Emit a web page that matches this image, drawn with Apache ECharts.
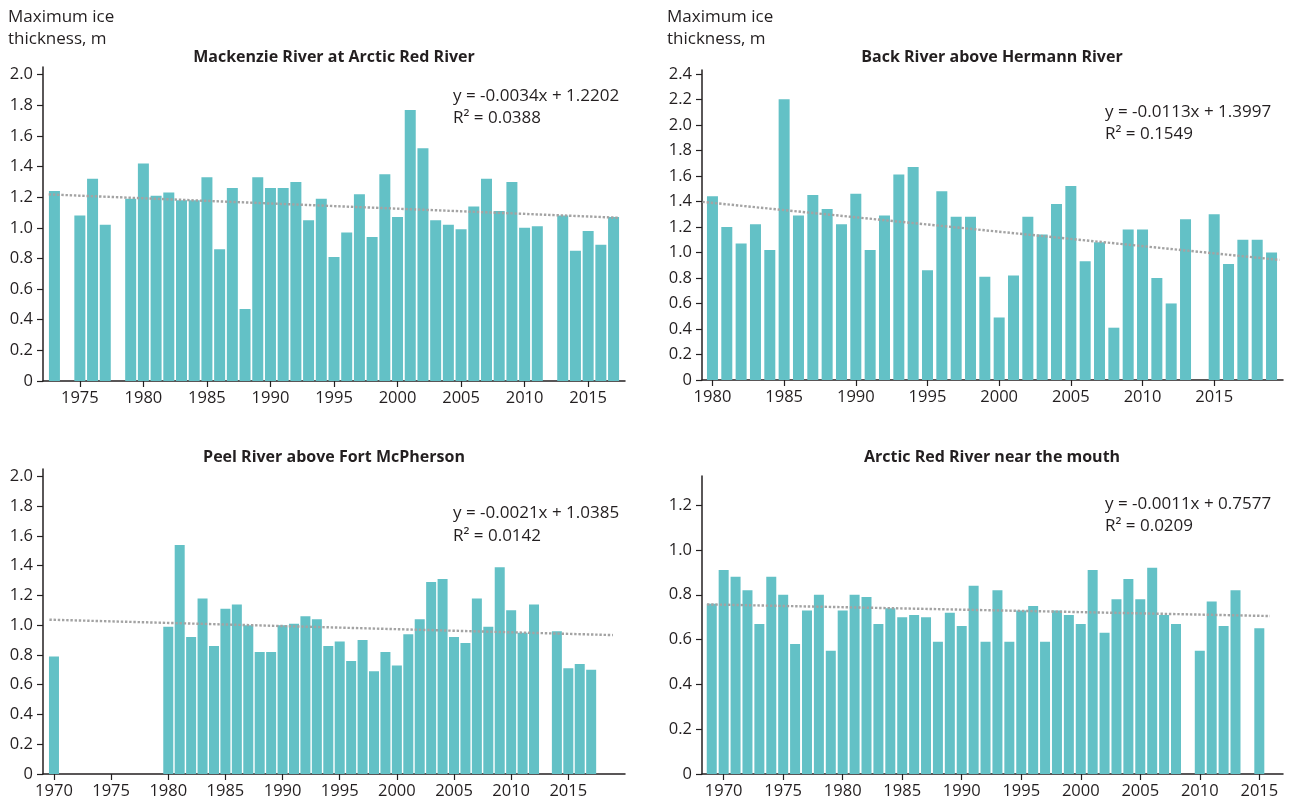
<!DOCTYPE html>
<html>
<head>
<meta charset="utf-8">
<script src="https://cdn.jsdelivr.net/npm/echarts@6/dist/echarts.min.js"></script>
<style>
  html, body { margin: 0; padding: 0; background: #ffffff; }
  #chart { width: 1290px; height: 805px; }
</style>
</head>
<body>
<div id="chart"></div>
<script>
// Maximum ice thickness (m) per year; null = no measurement that year.
const mackenzieStart = 1973;
const mackenzieValues = [
  1.24, null, 1.08, 1.32, 1.02, null, 1.19, 1.42, 1.21, 1.23,
  1.18, 1.18, 1.33, 0.86, 1.26, 0.47, 1.33, 1.26, 1.26, 1.30,
  1.05, 1.19, 0.81, 0.97, 1.22, 0.94, 1.35, 1.07, 1.77, 1.52,
  1.05, 1.02, 0.99, 1.14, 1.32, 1.11, 1.30, 1.00, 1.01, null,
  1.08, 0.85, 0.98, 0.89, 1.07
];

const backStart = 1980;
const backValues = [
  1.44, 1.20, 1.07, 1.22, 1.02, 2.20, 1.29, 1.45, 1.34, 1.22,
  1.46, 1.02, 1.29, 1.61, 1.67, 0.86, 1.48, 1.28, 1.28, 0.81,
  0.49, 0.82, 1.28, 1.14, 1.38, 1.52, 0.93, 1.08, 0.41, 1.18,
  1.18, 0.80, 0.60, 1.26, null, 1.30, 0.91, 1.10, 1.10, 1.00
];

const peelStart = 1970;
const peelValues = [
  0.79, null, null, null, null, null, null, null, null, null,
  0.99, 1.54, 0.92, 1.18, 0.86, 1.11, 1.14, 1.00, 0.82, 0.82,
  1.00, 1.01, 1.06, 1.04, 0.86, 0.89, 0.76, 0.90, 0.69, 0.82,
  0.73, 0.94, 1.04, 1.29, 1.31, 0.92, 0.88, 1.18, 0.99, 1.39,
  1.10, 0.95, 1.14, null, 0.96, 0.71, 0.74, 0.70
];

const arcticStart = 1969;
const arcticValues = [
  0.76, 0.91, 0.88, 0.82, 0.67, 0.88, 0.80, 0.58, 0.73, 0.80,
  0.55, 0.73, 0.80, 0.79, 0.67, 0.74, 0.70, 0.71, 0.70, 0.59,
  0.72, 0.66, 0.84, 0.59, 0.82, 0.59, 0.73, 0.75, 0.59, 0.73,
  0.71, 0.67, 0.91, 0.63, 0.78, 0.87, 0.78, 0.92, 0.71, 0.67,
  null, 0.55, 0.77, 0.66, 0.82, null, 0.65
];

// Linear trend fits (x = 1 at the first year of each record)
const mackenzieTrend = { slope: -0.0034, intercept: 1.2202, r2: '0.0388', span: [1972.55, 2017.45] };
const backTrend      = { slope: -0.0113, intercept: 1.3997, r2: '0.1549', span: [1979.3, 2019.55] };
const peelTrend      = { slope: -0.0021, intercept: 1.0385, r2: '0.0142', span: [1969.6, 2018.9] };
const arcticTrend    = { slope: -0.0011, intercept: 0.7577, r2: '0.0209', span: [1968.6, 2015.9] };

// Tick labels
const yearTicksA = [1975, 1980, 1985, 1990, 1995, 2000, 2005, 2010, 2015];
const yearTicksB = [1980, 1985, 1990, 1995, 2000, 2005, 2010, 2015];
const yearTicksC = [1970, 1975, 1980, 1985, 1990, 1995, 2000, 2005, 2010, 2015];
const thickTicks20 = [0, 0.2, 0.4, 0.6, 0.8, 1.0, 1.2, 1.4, 1.6, 1.8, 2.0];
const thickTicks24 = [0, 0.2, 0.4, 0.6, 0.8, 1.0, 1.2, 1.4, 1.6, 1.8, 2.0, 2.2, 2.4];
const thickTicks12 = [0, 0.2, 0.4, 0.6, 0.8, 1.0, 1.2];

const titles = [
  'Mackenzie River at Arctic Red River',
  'Back River above Hermann River',
  'Peel River above Fort McPherson',
  'Arctic Red River near the mouth'
];
const yName = ['Maximum ice', 'thickness, m'];

const FONT = '"Open Sans", "Noto Sans", sans-serif';
const BAR = '#63c1c6';
const INK = '#231f20';

const panels = [
  { start: mackenzieStart, values: mackenzieValues, trend: mackenzieTrend, xTicks: yearTicksA, yTicks: thickTicks20,
    grid: { left: 43, right: 665, top: 67, bottom: 424 }, xRange: [1972.1, 2017.9], yMax: 2.05, barWidth: 11 },
  { start: backStart, values: backValues, trend: backTrend, xTicks: yearTicksB, yTicks: thickTicks24,
    grid: { left: 702, right: 7, top: 70, bottom: 425 }, xRange: [1979.27, 2019.8], yMax: 2.43, barWidth: 11 },
  { start: peelStart, values: peelValues, trend: peelTrend, xTicks: yearTicksC, yTicks: thickTicks20,
    grid: { left: 43, right: 665, top: 469, bottom: 31 }, xRange: [1969.04, 2019.96], yMax: 2.05, barWidth: 10 },
  { start: arcticStart, values: arcticValues, trend: arcticTrend, xTicks: yearTicksC, yTicks: thickTicks12,
    grid: { left: 702, right: 7, top: 476, bottom: 31 }, xRange: [1968.18, 2016.99], yMax: 1.33, barWidth: 10 }
];

const grid = [], xAxis = [], yAxis = [], series = [];

panels.forEach((p, i) => {
  grid.push(Object.assign({ containLabel: false }, p.grid));

  xAxis.push({
    type: 'value', gridIndex: i, min: p.xRange[0], max: p.xRange[1],
    splitLine: { show: false },
    axisLine: { show: true, onZero: false, lineStyle: { color: INK, width: 1.5 } },
    axisTick: { show: true, length: 6, customValues: p.xTicks, lineStyle: { color: INK, width: 1.2 } },
    axisLabel: { customValues: p.xTicks, margin: 9, color: INK, fontFamily: FONT, fontSize: 16.5,
      formatter: v => String(Math.round(v)) }
  });

  yAxis.push({
    type: 'value', gridIndex: i, min: 0, max: p.yMax,
    splitLine: { show: false },
    axisLine: { show: true, lineStyle: { color: INK, width: 1.5 } },
    axisTick: { show: true, length: 6, customValues: p.yTicks, lineStyle: { color: INK, width: 1.2 } },
    axisLabel: { customValues: p.yTicks, margin: 10, color: INK, fontFamily: FONT, fontSize: 16.5,
      formatter: v => (v === 0 ? '0' : v.toFixed(1)) }
  });

  const barData = [];
  p.values.forEach((v, k) => { if (v !== null) barData.push([p.start + k, v]); });

  series.push({
    type: 'bar', xAxisIndex: i, yAxisIndex: i, data: barData,
    barWidth: p.barWidth, itemStyle: { color: BAR }, silent: true, animation: false
  });

  const t = p.trend;
  const fit = yr => t.intercept + t.slope * (yr - p.start + 1);
  series.push({
    type: 'line', xAxisIndex: i, yAxisIndex: i,
    data: [[t.span[0], fit(t.span[0])], [t.span[1], fit(t.span[1])]],
    symbol: 'none', silent: true, animation: false, z: 5,
    lineStyle: { color: '#a3a3a3', width: 2.4, type: [2.4, 1.8], cap: 'butt' }
  });
});

// Text: panel titles, y-axis captions and trend equations
function txt(x, y, text, font, align) {
  return { type: 'text', x, y, silent: true,
    style: { text, font, fill: INK, align: align || 'left', verticalAlign: 'middle' } };
}
const titleFont = 'bold 16px ' + FONT;
const capFont = '17px ' + FONT;
const eqFont = '17px ' + FONT;
const eqText = t => 'y = ' + t.slope.toFixed(4) + 'x + ' + t.intercept.toFixed(4);

const graphic = [
  txt(8, 17, yName[0], capFont), txt(8, 39, yName[1], capFont),
  txt(667, 17, yName[0], capFont), txt(667, 39, yName[1], capFont),
  txt(334, 57, titles[0], titleFont, 'center'),
  txt(992, 57, titles[1], titleFont, 'center'),
  txt(334, 457, titles[2], titleFont, 'center'),
  txt(992, 457, titles[3], titleFont, 'center'),
  txt(453, 96, eqText(mackenzieTrend), eqFont), txt(453, 118, 'R\u00b2 = ' + mackenzieTrend.r2, eqFont),
  txt(1105, 112, eqText(backTrend), eqFont), txt(1105, 134, 'R\u00b2 = ' + backTrend.r2, eqFont),
  txt(453, 513, eqText(peelTrend), eqFont), txt(453, 536, 'R\u00b2 = ' + peelTrend.r2, eqFont),
  txt(1105, 504, eqText(arcticTrend), eqFont), txt(1105, 526, 'R\u00b2 = ' + arcticTrend.r2, eqFont)
];

const chart = echarts.init(document.getElementById('chart'), null, { renderer: 'canvas' });
chart.setOption({
  backgroundColor: '#ffffff',
  animation: false,
  grid, xAxis, yAxis, series, graphic
});
</script>
</body>
</html>
